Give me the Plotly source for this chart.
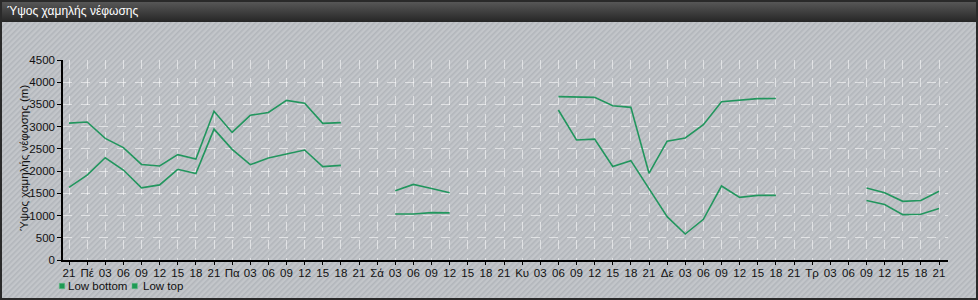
import base64
import plotly.graph_objects as go

# ---- data ----
tick_labels = ["21", "Πέ", "03", "06", "09", "12", "15", "18",
               "21", "Πα", "03", "06", "09", "12", "15", "18",
               "21", "Σά", "03", "06", "09", "12", "15", "18",
               "21", "Κυ", "03", "06", "09", "12", "15", "18",
               "21", "Δε", "03", "06", "09", "12", "15", "18",
               "21", "Τρ", "03", "06", "09", "12", "15", "18",
               "21"]
N = None
low_bottom = [1635, 1910, 2300, 2025, 1625, 1690, 2040, 1945,
              2945, 2490, 2145, 2295, 2385, 2475, 2100, 2130,
              N, N, 1035, 1035, 1065, 1060, N, N,
              N, N, N, 3375, 2700, 2720, 2105, 2235,
              1610, 975, 585, 915, 1665, 1410, 1455, 1455,
              N, N, N, N, 1340, 1250, 1020, 1030,
              1160]
low_top = [3080, 3105, 2735, 2530, 2150, 2115, 2370, 2270,
           3345, 2870, 3255, 3320, 3590, 3525, 3075, 3090,
           N, N, 1560, 1700, 1610, 1515, N, N,
           N, N, N, 3675, 3665, 3660, 3470, 3435,
           1950, 2675, 2745, 3045, 3560, 3590, 3630, 3635,
           N, N, N, N, 1620, 1515, 1320, 1340,
           1545]
series_names = ["Low bottom", "Low top"]
title_text = "Ύψος χαμηλής νέφωσης"
y_title = "Ύψος χαμηλής νέφωσης (m)"

x_idx = list(range(len(tick_labels)))

# ---- geometry ----
W, H = 978, 300
ML, MR, MT, MB = 63, 30, 60, 40
PW, PH = W - ML - MR, H - MT - MB


def px_x(x):
    return (x - ML) / PW


def px_y(y):
    return (H - MB - y) / PH


LINE = "#22965e"
FONT = "Liberation Sans, Arial, sans-serif"

svg = f'''<svg xmlns="http://www.w3.org/2000/svg" width="{W}" height="{H}">
<defs>
<pattern id="p" width="4" height="4" patternUnits="userSpaceOnUse" patternTransform="rotate(45)">
<rect width="4" height="4" fill="#c3c6ca"/><rect width="1.6" height="4" fill="#b2b6bb"/>
</pattern>
<linearGradient id="g" x1="0" y1="0" x2="0" y2="1">
<stop offset="0" stop-color="#5c5c5c"/><stop offset="1" stop-color="#262626"/>
</linearGradient>
</defs>
<rect width="{W}" height="{H}" fill="url(#p)"/>
<rect width="{W}" height="22" fill="url(#g)"/>
<rect x="1" y="1" width="{W-2}" height="{H-2}" fill="none" stroke="#2a2a2a" stroke-width="2"/>
</svg>'''
svg_uri = "data:image/svg+xml;base64," + base64.b64encode(svg.encode()).decode()

fig = go.Figure()
for name, vals in zip(series_names, [low_bottom, low_top]):
    fig.add_trace(go.Scatter(x=x_idx, y=vals, name=name, mode="lines",
                             line=dict(color=LINE, width=1.6),
                             connectgaps=False, showlegend=False))

x0 = -(69 - ML) / 18.125
x1 = 48 + (948 - 939) / 18.125

fig.update_layout(
    width=W, height=H,
    margin=dict(l=ML, r=MR, t=MT, b=MB),
    paper_bgcolor="#c3c6ca",
    plot_bgcolor="rgba(255,255,255,0.10)",
    font=dict(family=FONT, size=11, color="#111"),
    xaxis=dict(range=[x0, x1], tickmode="array", tickvals=x_idx, ticktext=tick_labels,
               showline=True, linecolor="#000", linewidth=1.5,
               ticks="outside", ticklen=3, tickcolor="#000", tickwidth=1,
               ticklabelstandoff=-2,
               showgrid=True, gridcolor="rgba(255,255,255,0.55)", griddash="dash",
               gridwidth=1, zeroline=False, tickangle=0,
               tickfont=dict(size=11.5, color="#111")),
    yaxis=dict(range=[0, 4500], dtick=500, tick0=0,
               showline=True, linecolor="#000", linewidth=1.5,
               ticks="outside", ticklen=4, tickcolor="#000", tickwidth=1,
               showgrid=True, gridcolor="rgba(255,255,255,0.55)", griddash="dash",
               gridwidth=1, zeroline=False,
               tickfont=dict(size=11.5, color="#111")),
    images=[dict(source=svg_uri, xref="paper", yref="paper",
                 x=px_x(0), y=px_y(0), sizex=W / PW, sizey=H / PH,
                 xanchor="left", yanchor="top", sizing="stretch", layer="below")],
)

# title bar text
fig.add_annotation(text=title_text, xref="paper", yref="paper",
                   x=px_x(5), y=px_y(11), xanchor="left", yanchor="middle",
                   showarrow=False, font=dict(family=FONT, size=12, color="#ffffff"))

# y-axis title
fig.add_annotation(text=y_title, xref="paper", yref="paper",
                   x=px_x(24), y=px_y(158), xanchor="center", yanchor="middle",
                   textangle=-90, showarrow=False,
                   font=dict(family=FONT, size=11.5, color="#111"))

# custom legend (squares + labels)
LEG_Y = 286
leg_items = [(62, 65), (134.7, 140)]
for (sq_x, tx_x), name in zip(leg_items, series_names):
    fig.add_shape(type="rect", xref="paper", yref="paper",
                  x0=px_x(sq_x - 2.7), x1=px_x(sq_x + 2.7),
                  y0=px_y(LEG_Y + 2.7), y1=px_y(LEG_Y - 2.7),
                  fillcolor="#1f9a55", line=dict(color="#5fbf85", width=0.5))
    fig.add_annotation(text=name, xref="paper", yref="paper",
                       x=px_x(tx_x + 1), y=px_y(LEG_Y), xanchor="left", yanchor="middle",
                       showarrow=False, font=dict(family=FONT, size=11.5, color="#111"))

fig.write_html("out.html")
